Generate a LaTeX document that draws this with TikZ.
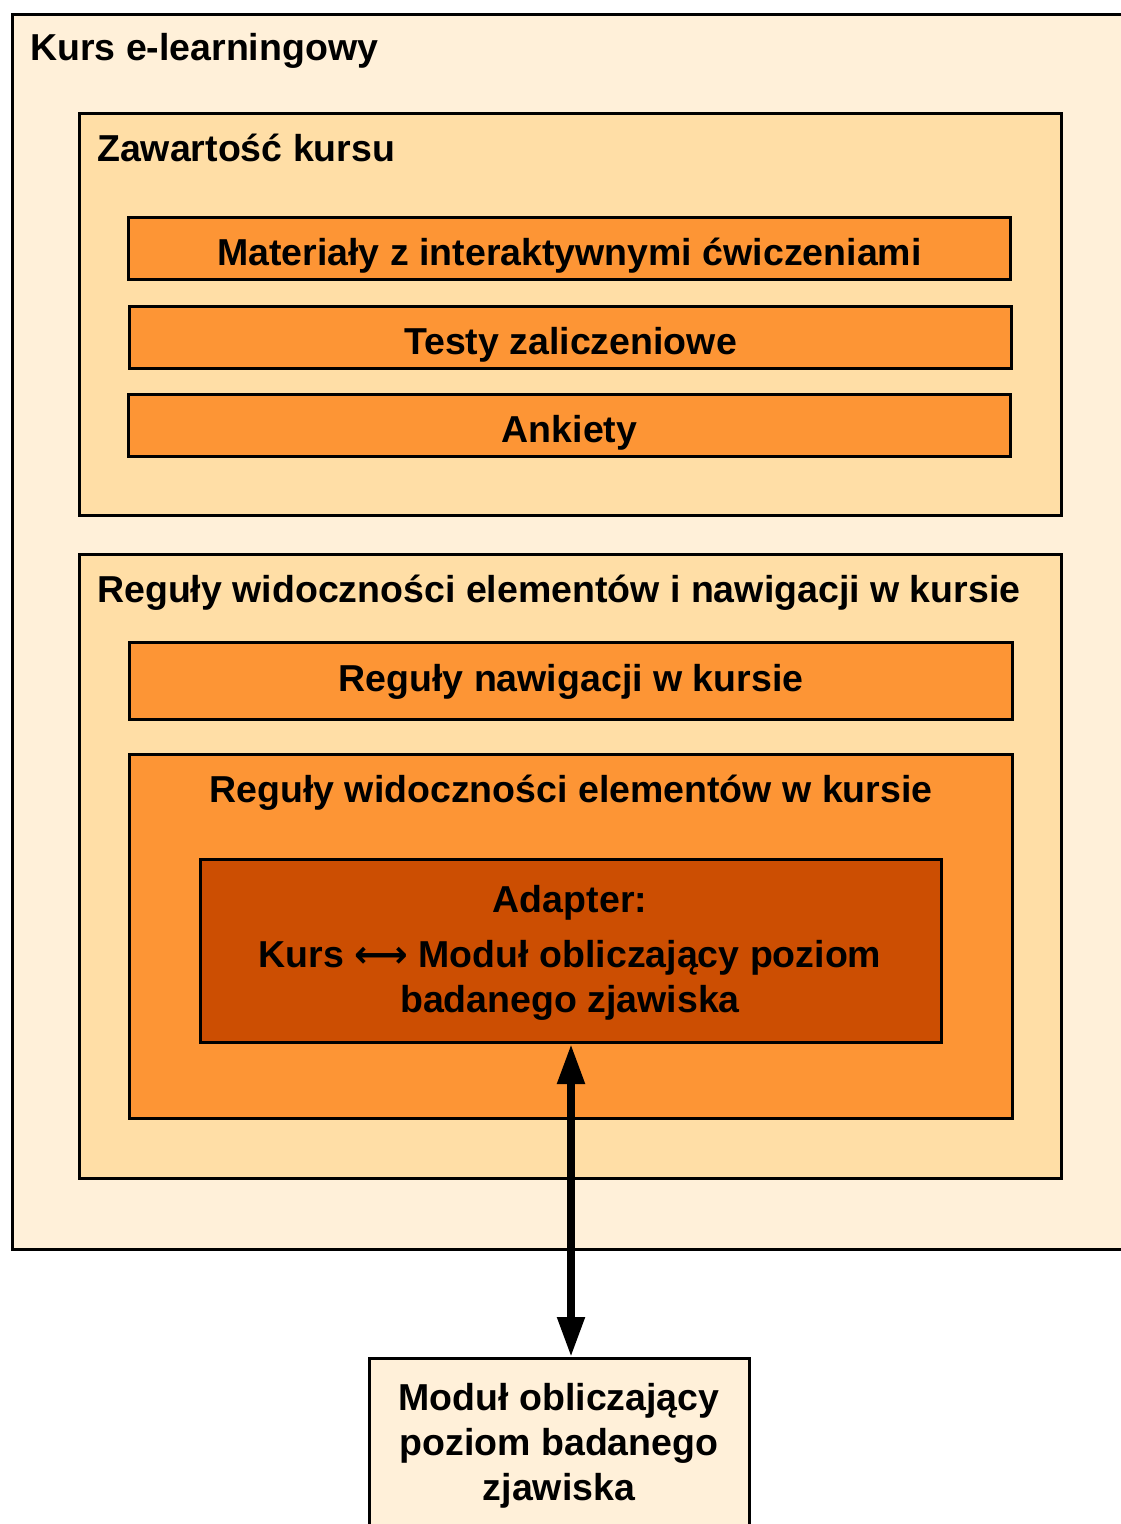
\documentclass[tikz,border=0pt]{standalone}
\usepackage{fontspec}
\setmainfont{Liberation Sans}
\newfontfamily\symfont{DejaVu Sans}
\usetikzlibrary{arrows.meta}
\definecolor{outerfill}{HTML}{FFF0D9}
\definecolor{midfill}{HTML}{FFDEA6}
\definecolor{orangefill}{HTML}{FD9535}
\definecolor{darkfill}{HTML}{CC4E02}
\begin{document}
\begin{tikzpicture}[x=1pt,y=-1pt,
  box/.style={draw=black, line width=3pt, inner sep=0pt, anchor=north west,
    font=\bfseries\fontsize{37.5}{45}\selectfont, text height=33pt, text depth=0pt},
  lbl/.style={inner sep=0pt, font=\bfseries\fontsize{37.5}{45}\selectfont},
  conn/.style={line width=8pt, {Triangle[width=26pt,length=40pt]}-{Triangle[width=26pt,length=40pt]}}]
\path[use as bounding box, clip] (0,0) rectangle (1121,1524);
% outer course box
\node[box, fill=outerfill, minimum width=1130pt, minimum height=1234.5pt] (course) at (10.5,13) {};
\node[lbl, anchor=base west] (coursetitle) at (30,60) {Kurs e-learningowy};
% content box
\node[box, fill=midfill, minimum width=982pt, minimum height=402pt] (content) at (78,112) {};
\node[lbl, anchor=base west] (contenttitle) at (97,161) {Zawartość kursu};
\node[box, fill=orangefill, minimum width=882pt, minimum height=62pt] (materials) at (127,216) {Materiały z interaktywnymi ćwiczeniami};
\node[box, fill=orangefill, minimum width=882pt, minimum height=62pt, text height=34pt] (tests) at (128,305) {Testy zaliczeniowe};
\node[box, fill=orangefill, minimum width=882pt, minimum height=62pt] (surveys) at (127,393) {Ankiety};
% rules box
\node[box, fill=midfill, minimum width=982pt, minimum height=624pt] (rules) at (78,553) {};
\node[lbl, anchor=base west] (rulestitle) at (97,602) {Reguły widoczności elementów i nawigacji w kursie};
\node[box, fill=orangefill, minimum width=883pt, minimum height=77pt, text height=26.8pt, text depth=6pt] (nav) at (128,641) {Reguły nawigacji w kursie};
\node[box, fill=orangefill, minimum width=883pt, minimum height=364pt] (vis) at (128,753) {};
\node[lbl, anchor=base] (vistitle) at (571,802) {Reguły widoczności elementów w kursie};
% adapter
\node[box, fill=darkfill, minimum width=741pt, minimum height=183pt] (adapter) at (199,858) {};
\node[lbl, anchor=base] (adapter1) at (570,912) {Adapter:};
\node[lbl, anchor=base] (adapter2) at (570,967) {Kurs {\symfont ⟷} Moduł obliczający poziom};
\node[lbl, anchor=base] (adapter3) at (570,1012) {badanego zjawiska};
% external module
\node[box, fill=outerfill, minimum width=380pt, minimum height=220pt] (module) at (368,1357) {};
\node[lbl, anchor=base] (module1) at (559,1410) {Moduł obliczający};
\node[lbl, anchor=base] (module2) at (559,1455) {poziom badanego};
\node[lbl, anchor=base] (module3) at (559,1500) {zjawiska};
% connector
\draw[conn] (adapter.south) -- (adapter.south |- module.north);
\end{tikzpicture}
\end{document}
